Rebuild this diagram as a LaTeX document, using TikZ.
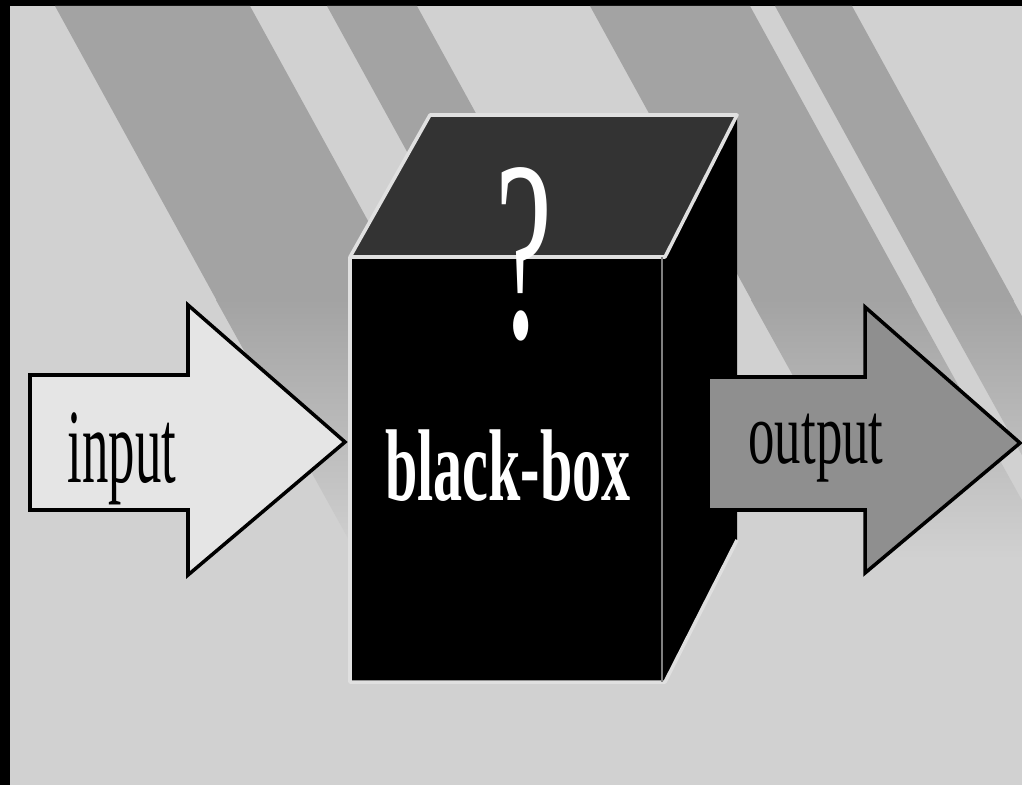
\documentclass[tikz,border=0pt]{standalone}
\usepackage{fontspec}
\setmainfont{Liberation Serif}
\usetikzlibrary{positioning}
\definecolor{bggray}{gray}{0.82}
\definecolor{stripegray}{gray}{0.64}
\definecolor{lidgray}{gray}{0.2}
\definecolor{ingray}{gray}{0.9}
\definecolor{outgray}{gray}{0.56}
\definecolor{edgegray}{gray}{0.88}

\begin{document}
\begin{tikzpicture}[x=0.01cm, y=-0.01cm,
    stripe/.style={fill=stripegray},
    blockarrow/.style={draw=black, line width=1pt, line join=miter},
    cubeedge/.style={draw=edgegray, line width=1pt, line join=round},
    boxtext/.style={inner sep=0pt, anchor=base}]
    \useasboundingbox (0,0) rectangle (1022,785);

    % Frame and background
    \fill[black] (0,0) rectangle (1022,785);
    \fill[bggray] (10,6) rectangle (1022,785);

    % Diagonal stripes, fading out towards the bottom
    \begin{scope}
        \clip (10,6) rectangle (1022,785);
        \foreach \a/\b in {55/250, 327/417, 590/750, 775/852} {
            \fill[stripe] (\a,6) -- (\b,6) -- (\b+162,301) -- (\a+162,301) -- cycle;
            \shade[top color=stripegray, bottom color=bggray]
                (\a+161,300) -- (\b+161,300) -- (\b+305,560) -- (\a+305,560) -- cycle;
        }
    \end{scope}

    % Cube corners
    \coordinate (fl) at (350,257);
    \coordinate (fr) at (665,257);
    \coordinate (bl) at (430,115);
    \coordinate (br) at (737,115);
    \coordinate (dl) at (350,682);
    \coordinate (dr) at (665,682);
    \coordinate (db) at (737,540);

    % Cube faces
    \fill[lidgray] (fl) -- (bl) -- (br) -- (fr) -- cycle;
    \fill[black] (fr) -- (br) -- (db) -- (dr) -- cycle;
    \fill[black] (fl) rectangle (dr);

    % Cube edges
    \draw[cubeedge] (fl) -- (bl) -- (br) -- (fr) -- cycle;
    \draw[cubeedge] (fl) -- (dl) -- (dr) -- (db);
    \draw[draw=gray, line width=0.6pt] (662,257) -- (662,682);

    % Question mark on the lid
    \node[boxtext, text=white, font=\fontsize{73}{73}\selectfont] (qmark) at (524,337)
        {\scalebox{0.5}[1]{?}};
    % Front label
    \node[boxtext, text=white, font=\fontsize{29}{29}\selectfont\bfseries] (boxlabel) at (508,500)
        {\scalebox{0.57}[1]{black-box}};

    % Output arrow
    \draw[blockarrow, fill=outgray] (708,377) -- (865,377) -- (865,307) -- (1020,443)
        -- (865,573) -- (865,510) -- (708,510) -- cycle;
    \node[boxtext, font=\fontsize{25}{25}\selectfont] (outlabel) at (816,463)
        {\scalebox{0.6}[1]{output}};

    % Input arrow
    \draw[blockarrow, fill=ingray] (30,375) -- (188,375) -- (188,305) -- (345,442)
        -- (188,575) -- (188,510) -- (30,510) -- cycle;
    \node[boxtext, font=\fontsize{30}{30}\selectfont] (inlabel) at (122,482)
        {\scalebox{0.5}[1]{input}};
\end{tikzpicture}
\end{document}
